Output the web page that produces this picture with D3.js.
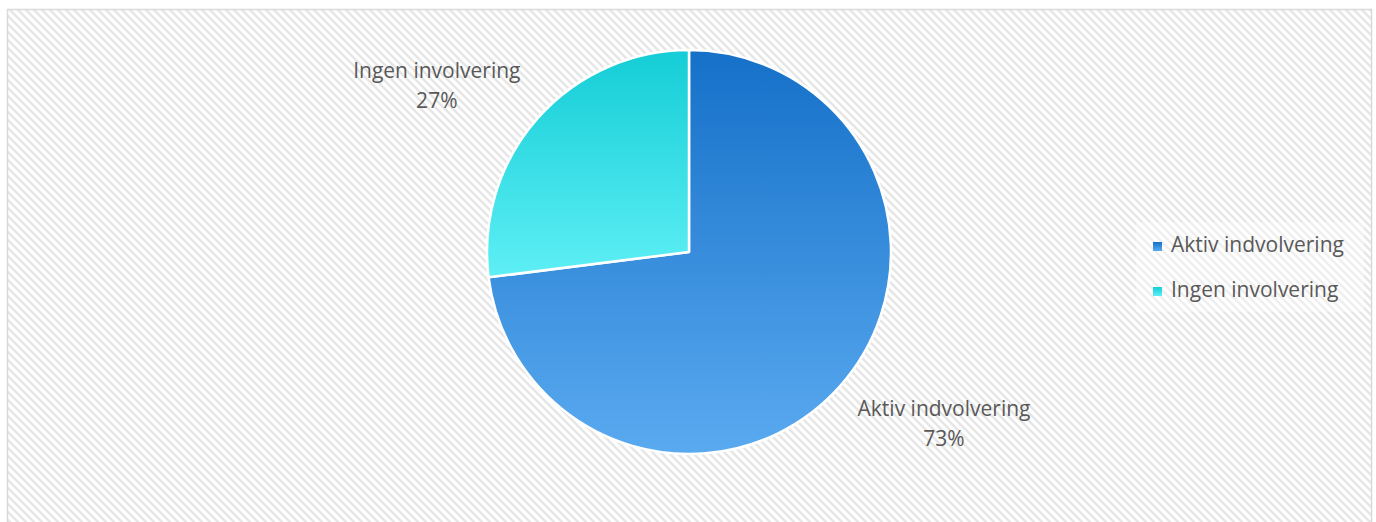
<!DOCTYPE html>
<html lang="en">
<head>
    <meta charset="UTF-8">
    <title>Involvering</title>
    <script src="https://d3js.org/d3.v7.min.js"></script>
    <style>
        body {
            margin: 0;
            background-color: #ffffff;
            font-family: "Open Sans", Lato, sans-serif;
        }
        .lbl {
            fill: #595959;
            font-size: 21px;
        }
    </style>
</head>
<body>
    <svg id="chart" width="1376" height="522"></svg>
    <script>
        const width = 1376;
        const height = 522;

        // Data
        const categories = ["Aktiv indvolvering", "Ingen involvering"];
        const values = [73, 27];
        const topColors = ["#1570c8", "#14cdd6"];
        const bottomColors = ["#5aaaf0", "#5eeff5"];

        const svg = d3.select("#chart");
        const defs = svg.append("defs");

        // striped background
        const pat = defs.append("pattern")
            .attr("id", "stripes")
            .attr("patternUnits", "userSpaceOnUse")
            .attr("width", 8)
            .attr("height", 8);
        pat.append("rect").attr("width", 8).attr("height", 8).attr("fill", "#ffffff");
        pat.append("path")
            .attr("d", "M-2,-2L10,10M-2,6L2,10M6,-2L10,2")
            .attr("stroke", "#e6e6e6")
            .attr("stroke-width", 2.4);

        categories.forEach((c, i) => {
            const g = defs.append("linearGradient")
                .attr("id", "grad" + i)
                .attr("x1", 0).attr("y1", 0).attr("x2", 0).attr("y2", 1);
            g.append("stop").attr("offset", "0%").attr("stop-color", topColors[i]);
            g.append("stop").attr("offset", "100%").attr("stop-color", bottomColors[i]);
        });

        svg.append("rect")
            .attr("x", 7.5).attr("y", 9.5)
            .attr("width", 1364).attr("height", 530)
            .attr("fill", "url(#stripes)")
            .attr("stroke", "#d9d9d9")
            .attr("stroke-width", 1.5);

        const cx = 689, cy = 252, radius = 202;

        const pie = d3.pie().sort(null).value(d => d.value);
        const arcs = pie(categories.map((c, i) => ({ name: c, value: values[i], idx: i })));
        const arc = d3.arc().innerRadius(0).outerRadius(radius);

        const g = svg.append("g").attr("transform", `translate(${cx},${cy})`);

        g.selectAll("path")
            .data(arcs)
            .enter().append("path")
            .attr("d", arc)
            .attr("fill", d => `url(#grad${d.data.idx})`)
            .attr("stroke", "#ffffff")
            .attr("stroke-width", 2.5)
            .attr("stroke-linejoin", "round");

        // data labels, placed outside the slice end
        const total = d3.sum(values);
        arcs.forEach(d => {
            const mid = (d.startAngle + d.endAngle) / 2;
            const px = Math.sin(mid) * (radius + 20);
            const py = -Math.cos(mid) * (radius + 20);
            const t = g.append("text")
                .attr("class", "lbl")
                .attr("text-anchor", "middle");
            t.append("tspan").attr("x", 0).attr("dy", 0).text(d.data.name);
            t.append("tspan").attr("x", 0).attr("dy", 30)
                .text(d3.format(".0%")(d.data.value / total));
            const box = t.node().getBBox();
            const sx = Math.sign(px), sy = Math.sign(py);
            const bx = px + sx * (box.width / 2 + 2);
            const by = py + sy * (box.height / 2 - 6.5) + 2;
            t.attr("transform", `translate(${bx},${by - box.y - box.height / 2})`);
        });

        // legend
        const legend = svg.append("g").attr("transform", "translate(1136,222)");
        legend.append("rect")
            .attr("width", 228).attr("height", 90)
            .attr("fill", "#ffffff").attr("opacity", 0.35);
        const items = legend.selectAll("g.item")
            .data(categories)
            .enter().append("g")
            .attr("transform", (d, i) => `translate(17,${23 + i * 45})`);
        items.append("rect")
            .attr("width", 9).attr("height", 9)
            .attr("y", -3)
            .attr("fill", (d, i) => `url(#grad${i})`);
        items.append("text")
            .attr("class", "lbl")
            .attr("x", 18)
            .attr("y", 7)
            .text(d => d);
    </script>
</body>
</html>
